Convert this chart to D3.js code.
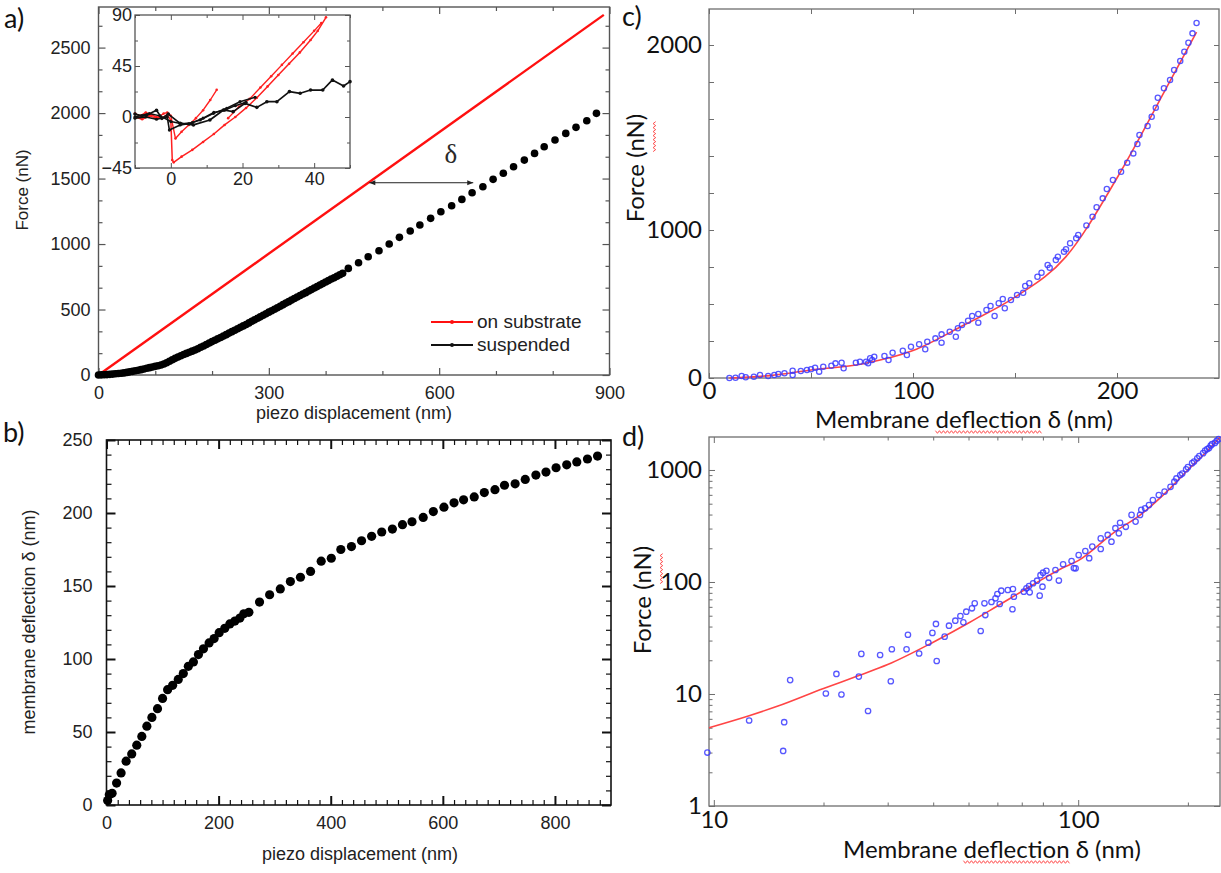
<!DOCTYPE html>
<html>
<head>
<meta charset="utf-8">
<script src="https://cdn.jsdelivr.net/npm/d3@7"></script>
<style>
  body { margin: 0; background: #fff; }
  svg { display: block; }
</style>
</head>
<body>
<svg id="fig" width="1221" height="873"></svg>
<script>
// ---------- data: panel a (force vs piezo displacement) ----------
const subPiezo = [0, 890]
const subForce = [0, 2750]
const suspPiezo = [0, 5, 10, 15, 20, 25, 30, 35, 40, 45, 50, 55, 60, 65, 70, 75, 80, 85, 90, 95,
  100, 105, 110, 115, 120, 125, 130, 135, 140, 145, 150, 155, 160, 165, 170, 175, 180, 185, 190, 195,
  200, 205, 210, 215, 220, 225, 230, 235, 240, 245, 250, 255, 260, 265, 270, 275, 280, 285, 290, 295,
  300, 305, 310, 315, 320, 325, 330, 335, 340, 345, 350, 355, 360, 365, 370, 375, 380, 385, 390, 395,
  400, 405, 410, 415, 420, 425, 430, 440, 458, 475, 494, 512, 530, 549, 566, 585, 603, 622, 640, 658,
  677, 695, 713, 731, 750, 768, 785, 804, 823, 841, 860, 877]
const suspForce = [0, 1, 2, 3, 5, 7, 9, 11, 13, 16, 20, 24, 28, 32, 36, 41, 46, 51, 56, 61,
  66, 71, 76, 84, 94, 105, 116, 127, 138, 147, 156, 165, 174, 182, 191, 201, 212, 222, 233, 244,
  255, 265, 276, 286, 297, 308, 320, 331, 342, 353, 364, 375, 386, 398, 410, 421, 433, 444, 456, 468,
  480, 491, 502, 513, 525, 537, 549, 560, 572, 584, 596, 607, 618, 629, 641, 652, 664, 675, 687, 698,
  710, 721, 733, 743, 754, 765, 776, 814, 857, 903, 949, 1000, 1051, 1099, 1145, 1196, 1247, 1292, 1341, 1392,
  1437, 1494, 1540, 1590, 1641, 1692, 1743, 1794, 1845, 1891, 1941, 1998]
const aPiezoTicks = [0, 300, 600, 900]
const aPiezoMinor = [100, 200, 400, 500, 700, 800]
const aForceTicks = [0, 500, 1000, 1500, 2000, 2500]
const aForceMinor = [166.7, 333.3, 666.7, 833.3, 1166.7, 1333.3, 1666.7, 1833.3, 2166.7, 2333.3, 2666.7]
// delta annotation: force level, red end, black end
const deltaForce = 1468
const deltaFrom = 477
const deltaTo = 660

// inset (zoom near contact)
const insetRed1 = [[-10, 3], [-8.5, 1], [-7, 4], [-5.5, 2], [-4, 0], [-2.5, -1], [-1, 2], [0, -3], [0.4, -38], [0.8, -40],
  [3, -35], [6, -29], [9, -22], [12, -15], [15, -7], [18, 0], [21, 8], [24, 17], [27, 27], [30, 37], [33, 47],
  [36, 57], [39, 68], [41, 76], [43.3, 88]]
const insetRed2 = [[-10, 0], [-8, -2], [-6, 1], [-4, -1], [-2, 3], [-1, 4], [0, 1], [1.3, -19], [3, -13], [5, -7],
  [7, -1], [9, 6], [11, 15], [12.8, 24]]
const insetRed3 = [[16, -1], [19, 9], [22, 16], [25, 26], [28, 36], [31, 46], [34, 56], [37, 66], [40, 76], [42, 83]]
const insetBlack1 = [[-10, 2.6], [-8, 1], [-6.7, 1.8], [-4, 6], [-2.5, -1.2], [-0.7, 2.6], [2.6, -5.6], [6.3, -7],
  [10.9, -2.6], [14.7, 6.2], [17.4, 4.7], [20.7, 12], [24, 8.5], [26.8, 13.5], [29.6, 13.5], [33.1, 22.4],
  [36.1, 20.9], [39, 23.8], [42.4, 23.8], [45.1, 32.7], [48.2, 27.4], [50, 31.2]]
const insetBlack2 = [[-10, -1], [-7, 0], [-4, -2], [-1, 0], [-0.4, -11.5], [2.6, -7], [5, -6], [8.2, -2.6],
  [11.9, 3.2], [15.6, 7.7], [19.3, 13.5], [23.5, 17.4]]
const insetBlack3 = [[-10, 0], [-6, 3], [-3, 1], [0, -4], [3, -6], [6, -5], [9, -1], [12, 4], [15, 6], [18, 10], [21, 13]]
const insetXTicks = [0, 20, 40]
const insetXMinor = [-10, 10, 30, 50]
const insetYTicks = [-45, 0, 45, 90]
const insetYMinor = [-22.5, 22.5, 67.5]

// ---------- data: panel b (deflection vs piezo) ----------
const bPiezo = [2, 5, 10, 18, 26, 35, 45, 54, 63, 72, 81, 91, 100, 109, 118, 128, 137, 146, 155, 164, 173, 183, 192,
  201, 211, 220, 229, 238, 245, 254, 273, 291, 310, 328, 346, 364, 383, 401, 418, 437, 455, 473, 491, 510,
  528, 545, 565, 583, 602, 620, 637, 656, 674, 693, 710, 729, 747, 766, 784, 802, 821, 839, 858, 876]
const bDelta = [3, 7, 8, 15, 22, 30, 35, 41, 47, 54, 60, 66, 73, 79, 82, 86, 90, 95, 98, 103, 107, 111, 114,
  118, 121, 124, 126, 128, 131, 132, 139, 144, 148, 153, 156, 160, 167, 169, 175, 177, 181, 184, 187, 189,
  192, 194, 197, 201, 204, 207, 209, 211, 214, 216, 219, 220, 223, 226, 228, 231, 233, 235, 237, 239]
const bPiezoTicks = [0, 200, 400, 600, 800]
const bDeltaTicks = [0, 50, 100, 150, 200, 250]

// ---------- data: panel c (force vs deflection, linear) ----------
const cDelta = [239, 237, 235, 233, 231, 228, 226, 223, 220, 219, 217, 215, 211, 210, 208, 205, 202, 198, 195, 193,
  190, 188, 185, 181, 180, 177, 175, 174, 171, 170, 167, 166, 163, 161, 157, 155, 154, 151, 148, 144,
  145, 142, 138, 136, 140, 132, 132, 129, 127, 124, 122, 121, 118, 114, 114, 111, 107, 106, 103, 99,
  97, 95, 90, 88, 86, 81, 80, 78, 79, 77, 74, 72, 65, 66, 62, 60, 56, 52, 54, 50,
  48, 45, 41, 41, 37, 34, 32, 29, 25, 22, 18, 16, 13, 10]
const cForce = [2119, 2063, 2012, 1964, 1914, 1865, 1811, 1766, 1715, 1661, 1612, 1562, 1514, 1465, 1414, 1364, 1315, 1270, 1222, 1171,
  1123, 1072, 1025, 966, 944, 910, 870, 853, 820, 797, 745, 764, 711, 684, 640, 622, 576, 561, 527, 534,
  471, 505, 486, 459, 419, 374, 432, 419, 387, 358, 336, 279, 313, 295, 239, 268, 245, 194, 228, 211,
  155, 184, 171, 122, 149, 144, 122, 99, 133, 110, 110, 103, 103, 66, 99, 83, 76, 70, 43, 59,
  54, 47, 49, 20, 32, 27, 20, 14, 20, 9, 5, 14, 2, 0]
const cFitDelta = [10, 30, 50, 75, 100, 125, 150, 175, 200, 225, 239]
const cFitForce = [0, 16, 54, 95, 185, 358, 546, 820, 1281, 1784, 2070]
const cDeltaTicks = [0, 100, 200]
const cDeltaMinor = [50, 150]
const cForceTicks = [0, 1000, 2000]
const cForceMinor = [250, 500, 750, 1200, 1400, 1600, 1800]

// ---------- data: panel d (force vs deflection, log-log) ----------
const dDelta = [9.6, 12.5, 15.6, 15.5, 16.2, 20.3, 21.7, 22.4, 25.0, 25.4,
  26.5, 28.6, 30.8, 30.6, 33.8, 34.1, 36.6, 38.8, 39.8, 40.9,
  40.7, 43.0, 44.2, 46.0, 47.5, 48.4, 49.3, 51.1, 52.0, 54.0,
  55.3, 55.6, 57.8, 59.3, 60.0, 60.9, 61.5, 64.1, 66.0, 66.2,
  66.6, 70.9, 72.1, 73.6, 73.3, 75.2, 77.1, 78.4, 79.8, 78.8,
  80.1, 81.8, 83.2, 86.6, 88.5, 90.9, 97.3, 95.9, 98.4, 100.3,
  104.6, 107.2, 109.3, 115.3, 115.3, 120.5, 123.4, 126.5, 130.3, 129.3,
  135.1, 140.1, 143.7, 149.0, 147.8, 152.6, 156.4, 160.3, 166.4, 172.6,
  179.2, 183.6, 190.6, 197.8, 205.4, 212.2, 220.2, 228.6, 237.2, 242.9,
  186, 193, 200, 208, 215, 223, 231, 240, 233, 226]
const dForce = [3.0, 5.8, 5.6, 3.1, 13.3, 10.1, 15.1, 9.9, 14.3, 22.8,
  7.05, 22.3, 25.1, 13.0, 25.1, 33.8, 23.0, 28.7, 35.1, 19.7,
  42.2, 32.5, 40.7, 45.1, 49.7, 43.6, 54.3, 58.2, 64.5, 36.5,
  64.5, 50.7, 66.3, 71.5, 78.1, 63.6, 83.6, 84.8, 57.1, 86.6,
  73.9, 81.9, 87.8, 80.9, 92.1, 97.4, 102.7, 75.5, 90.8, 115,
  121, 126, 109, 128, 103, 144, 133, 154, 132.5, 174,
  189, 163, 207, 245, 197, 263, 229, 302, 338, 272,
  311, 397, 346, 440, 397, 455, 487, 539, 598, 641,
  708, 786, 902, 1015, 1151, 1272, 1413, 1570, 1744, 1886,
  840, 930, 1060, 1190, 1330, 1490, 1650, 1820, 1700, 1540]
const dFitDelta = [9.7, 12.5, 15, 20, 25, 30, 40, 50, 60, 75, 90, 100, 125, 150, 175, 200, 225, 245]
const dFitForce = [5.0, 6.4, 7.8, 11.2, 14.6, 18.3, 29, 43, 61, 94, 132, 155, 275, 410, 640, 1000, 1455, 1958]
const dDeltaTicks = [10, 100]
const dDeltaMinor = [20, 30, 40, 50, 60, 70, 80, 90, 200]
const dForceTicks = [1, 10, 100, 1000]
const dForceMinor = [2, 3, 4, 5, 6, 7, 8, 9, 20, 30, 40, 50, 60, 70, 80, 90, 200, 300, 400, 500, 600, 700, 800, 900]

// ---------- helpers ----------
const svg = d3.select('#fig')
const fontA = '"Liberation Sans", Arial, sans-serif'
const fontC = 'Lato, "Noto Sans", sans-serif'

// frame with inward ticks on all four sides, labels on bottom and left
function frameAxes(g, x, y, o) {
  const xr0 = x.range(), yr0 = y.range()
  const xl = xr0[0], xr = xr0[xr0.length - 1]
  const yb = yr0[0], yt = yr0[yr0.length - 1]
  const sides = [
    [d3.axisBottom, `translate(0,${yb})`, x, o.xMajor, o.xMinor, o.xFmt, o.xPad],
    [d3.axisTop, `translate(0,${yt})`, x, o.xMajor, o.xMinor, null, 0],
    [d3.axisLeft, `translate(${xl},0)`, y, o.yMajor, o.yMinor, o.yFmt, o.yPad],
    [d3.axisRight, `translate(${xr},0)`, y, o.yMajor, o.yMinor, null, 0],
  ]
  for (const [mk, tr, sc, major, minor, fmt, pad] of sides) {
    if (minor) {
      g.append('g').attr('transform', tr)
        .call(mk(sc).tickValues(minor).tickSize(-o.minor).tickSizeOuter(0).tickFormat(''))
        .selectAll('.tick line').attr('stroke-width', o.minorWidth || o.tickWidth)
    }
    g.append('g').attr('transform', tr)
      .call(mk(sc).tickValues(major).tickSize(-o.major).tickSizeOuter(0).tickPadding(pad)
        .tickFormat(fmt || (() => '')))
      .selectAll('.tick line').attr('stroke-width', o.tickWidth)
  }
  g.selectAll('.domain').remove()
  g.selectAll('.tick line').attr('stroke', o.color)
  g.selectAll('.tick text').attr('font-family', o.font).attr('font-size', o.size).attr('fill', o.text)
  g.append('rect')
    .attr('x', xl).attr('y', yt).attr('width', xr - xl).attr('height', yb - yt)
    .attr('fill', 'none').attr('stroke', o.color).attr('stroke-width', o.frameWidth)
}

function label(g, x, y, str, font, size, o = {}) {
  return g.append('text')
    .attr('x', x).attr('y', y)
    .attr('font-family', font).attr('font-size', size)
    .attr('text-anchor', o.anchor || 'start')
    .attr('fill', o.fill || '#111')
    .text(str)
}

// rotated axis title, returns the group and the text
function vtitle(g, cx, cy, str, font, size, fill) {
  const t = g.append('g').attr('transform', `translate(${cx},${cy}) rotate(-90)`)
  const txt = t.append('text')
    .attr('text-anchor', 'middle').attr('dy', '0.35em')
    .attr('font-family', font).attr('font-size', size).attr('fill', fill)
    .text(str)
  return [t, txt]
}

// red spell-check squiggle under characters [i0, i1] of a text node
function squiggle(parent, txt, i0, i1, dyOff) {
  const node = txt.node()
  const a = node.getStartPositionOfChar(i0)
  const b = node.getEndPositionOfChar(i1)
  const pts = []
  let k = 0
  for (let x = a.x; x <= b.x; x += 2, k++) pts.push([x, a.y + dyOff + (k % 2 ? 1.3 : -1.3)])
  parent.append('path').attr('d', d3.line()(pts))
    .attr('fill', 'none').attr('stroke', '#ff3c3c').attr('stroke-width', 0.9)
}

function dottedPath(g, pts, x, y, color, width, r) {
  g.append('path').attr('d', d3.line().x(d => x(d[0])).y(d => y(d[1]))(pts))
    .attr('fill', 'none').attr('stroke', color).attr('stroke-width', width).attr('stroke-linejoin', 'round')
  g.selectAll(null).data(pts).join('circle')
    .attr('cx', d => x(d[0])).attr('cy', d => y(d[1])).attr('r', r).attr('fill', color)
}

// ---------- panel a ----------
const xA = d3.scaleLinear().domain([0, 900]).range([98.5, 609.5])
const yA = d3.scaleLinear().domain([0, 2810]).range([375, 7])
const gA = svg.append('g')
frameAxes(gA, xA, yA, {
  xMajor: aPiezoTicks, xMinor: aPiezoMinor, yMajor: aForceTicks, yMinor: aForceMinor,
  xFmt: d3.format('d'), yFmt: d3.format('d'), xPad: 11, yPad: 8,
  major: 7, minor: 4, tickWidth: 1.2, frameWidth: 1.4, color: '#555',
  font: fontA, size: 18, text: '#222'
})
gA.append('path')
  .attr('d', d3.line().x(i => xA(subPiezo[i])).y(i => yA(subForce[i]))(d3.range(subPiezo.length)))
  .attr('stroke', '#ff1010').attr('stroke-width', 2.4).attr('fill', 'none')
gA.selectAll('.susp').data(suspPiezo).join('circle')
  .attr('class', 'susp')
  .attr('cx', d => xA(d)).attr('cy', (d, i) => yA(suspForce[i])).attr('r', 3.8).attr('fill', '#000')

// delta annotation
const defs = svg.append('defs')
defs.append('marker').attr('id', 'ah').attr('viewBox', '0 0 10 10')
  .attr('refX', 10).attr('refY', 5).attr('markerWidth', 9).attr('markerHeight', 6)
  .attr('orient', 'auto-start-reverse').attr('markerUnits', 'userSpaceOnUse')
  .append('path').attr('d', 'M0,1 L10,5 L0,9 Z').attr('fill', '#222')
gA.append('line')
  .attr('x1', xA(deltaFrom)).attr('x2', xA(deltaTo))
  .attr('y1', yA(deltaForce)).attr('y2', yA(deltaForce))
  .attr('stroke', '#222').attr('stroke-width', 1)
  .attr('marker-start', 'url(#ah)').attr('marker-end', 'url(#ah)')
label(gA, xA((deltaFrom + deltaTo) / 2 + 52), yA(deltaForce) - 20, 'δ', '"Liberation Serif", "DejaVu Serif", serif', 27,
  { anchor: 'middle', fill: '#2a2a2a' })

// legend
const legA = gA.append('g')
;[['on substrate', '#ff1010', 322], ['suspended', '#111', 345]].forEach(([name, col, ly]) => {
  legA.append('line').attr('x1', 431).attr('x2', 473).attr('y1', ly).attr('y2', ly)
    .attr('stroke', col).attr('stroke-width', 2)
  legA.append('circle').attr('cx', 452).attr('cy', ly).attr('r', 2).attr('fill', col)
  label(legA, 477, ly + 6, name, fontA, 19, { fill: '#222' })
})

label(gA, 354, 419, 'piezo displacement (nm)', fontA, 18, { anchor: 'middle', fill: '#222' })
vtitle(gA, 22, 190, 'Force (nN)', fontA, 17, '#222')
label(svg, 4, 28, 'a)', fontC, 27, { fill: '#111' })

// inset
const xI = d3.scaleLinear().domain([-10, 50]).range([135, 350])
const yI = d3.scaleLinear().domain([-45, 90]).range([168, 15])
const gI = gA.append('g')
gI.append('rect').attr('x', 135).attr('y', 15).attr('width', 215).attr('height', 153).attr('fill', '#fff')
frameAxes(gI, xI, yI, {
  xMajor: insetXTicks, xMinor: insetXMinor, yMajor: insetYTicks, yMinor: insetYMinor,
  xFmt: d3.format('d'), yFmt: d3.format('d'), xPad: 4, yPad: 3,
  major: 5, minor: 3, tickWidth: 1, frameWidth: 1.3, color: '#555',
  font: fontA, size: 18, text: '#222'
})
dottedPath(gI, insetRed2, xI, yI, '#ff2020', 1.4, 1.3)
dottedPath(gI, insetRed3, xI, yI, '#ff2020', 1.4, 1.3)
dottedPath(gI, insetRed1, xI, yI, '#ff2020', 1.5, 1.3)
dottedPath(gI, insetBlack3, xI, yI, '#111', 1.5, 1.6)
dottedPath(gI, insetBlack2, xI, yI, '#111', 1.6, 1.6)
dottedPath(gI, insetBlack1, xI, yI, '#111', 1.7, 1.8)

// ---------- panel b ----------
const xB = d3.scaleLinear().domain([0, 900]).range([106.5, 611])
const yB = d3.scaleLinear().domain([0, 250]).range([805, 440])
const gB = svg.append('g')
frameAxes(gB, xB, yB, {
  xMajor: bPiezoTicks, xMinor: d3.range(20, 900, 20).filter(v => v % 200),
  yMajor: bDeltaTicks, yMinor: d3.range(10, 250, 10).filter(v => v % 50),
  xFmt: d3.format('d'), yFmt: d3.format('d'), xPad: 11, yPad: 14,
  major: 9, minor: 5, tickWidth: 2, minorWidth: 1.2, frameWidth: 1.6, color: '#111',
  font: fontA, size: 18, text: '#222'
})
gB.selectAll('.pt').data(bPiezo).join('circle')
  .attr('class', 'pt')
  .attr('cx', d => xB(d)).attr('cy', (d, i) => yB(bDelta[i])).attr('r', 4.6).attr('fill', '#000')
label(gB, 360, 860, 'piezo displacement (nm)', fontA, 18, { anchor: 'middle', fill: '#222' })
vtitle(gB, 29, 622, 'membrane deflection δ (nm)', fontA, 18, '#222')
label(svg, 3, 442, 'b)', fontC, 27, { fill: '#111' })

// ---------- panel c ----------
const xC = d3.scaleLinear().domain([0, 250]).range([709, 1219])
const yC = d3.scaleLinear().domain([0, 1000, 2000, 2195]).range([378, 230, 45, 9])
const gC = svg.append('g')
frameAxes(gC, xC, yC, {
  xMajor: cDeltaTicks, xMinor: cDeltaMinor, yMajor: cForceTicks, yMinor: cForceMinor,
  xFmt: d3.format('d'), yFmt: d3.format('d'), xPad: 4, yPad: 7,
  major: 5, minor: 5, tickWidth: 1, frameWidth: 1.3, color: '#6e6e6e',
  font: fontC, size: 24, text: '#111'
})
gC.append('path')
  .attr('d', d3.line().curve(d3.curveMonotoneX)
    .x(i => xC(cFitDelta[i])).y(i => yC(cFitForce[i]))(d3.range(cFitDelta.length)))
  .attr('fill', 'none').attr('stroke', '#ff4545').attr('stroke-width', 1.6)
gC.selectAll('.pt').data(cDelta).join('circle')
  .attr('class', 'pt')
  .attr('cx', d => xC(d)).attr('cy', (d, i) => yC(cForce[i])).attr('r', 2.6)
  .attr('fill', 'none').attr('stroke', '#3a3aff').attr('stroke-opacity', 0.85).attr('stroke-width', 1.3)
const cTitle = label(gC, 964, 428, 'Membrane deflection δ (nm)', fontC, 24, { anchor: 'middle', fill: '#111' })
squiggle(gC, cTitle, 9, 18, 4)
const [cG, cY] = vtitle(gC, 636, 168, 'Force (nN)', fontC, 24, '#111')
squiggle(cG, cY, 7, 8, 10)
label(svg, 622, 26, 'c)', fontC, 27, { fill: '#111' })

// ---------- panel d ----------
const xD = d3.scaleLog().domain([9.7, 245]).range([709, 1220])
const yD = d3.scaleLog().domain([1, 1970]).range([806, 437])
const gD = svg.append('g')
frameAxes(gD, xD, yD, {
  xMajor: dDeltaTicks, xMinor: dDeltaMinor, yMajor: dForceTicks, yMinor: dForceMinor,
  xFmt: d3.format('d'), yFmt: d3.format('d'), xPad: 5, yPad: 7,
  major: 6, minor: 3.5, tickWidth: 1, frameWidth: 1.3, color: '#6e6e6e',
  font: fontC, size: 24, text: '#111'
})
gD.append('path')
  .attr('d', d3.line().curve(d3.curveMonotoneX)
    .x(i => xD(dFitDelta[i])).y(i => yD(dFitForce[i]))(d3.range(dFitDelta.length)))
  .attr('fill', 'none').attr('stroke', '#ff4545').attr('stroke-width', 1.6)
gD.selectAll('.pt').data(dDelta).join('circle')
  .attr('class', 'pt')
  .attr('cx', d => xD(d)).attr('cy', (d, i) => yD(dForce[i])).attr('r', 2.7)
  .attr('fill', 'none').attr('stroke', '#3a3aff').attr('stroke-opacity', 0.85).attr('stroke-width', 1.3)
const dTitle = label(gD, 992, 858, 'Membrane deflection δ (nm)', fontC, 24, { anchor: 'middle', fill: '#111' })
squiggle(gD, dTitle, 9, 18, 4)
const [dG, dY] = vtitle(gD, 643, 600, 'Force (nN)', fontC, 24, '#111')
squiggle(dG, dY, 7, 8, 10)
label(svg, 622, 446, 'd)', fontC, 27, { fill: '#111' })
</script>
</body>
</html>
